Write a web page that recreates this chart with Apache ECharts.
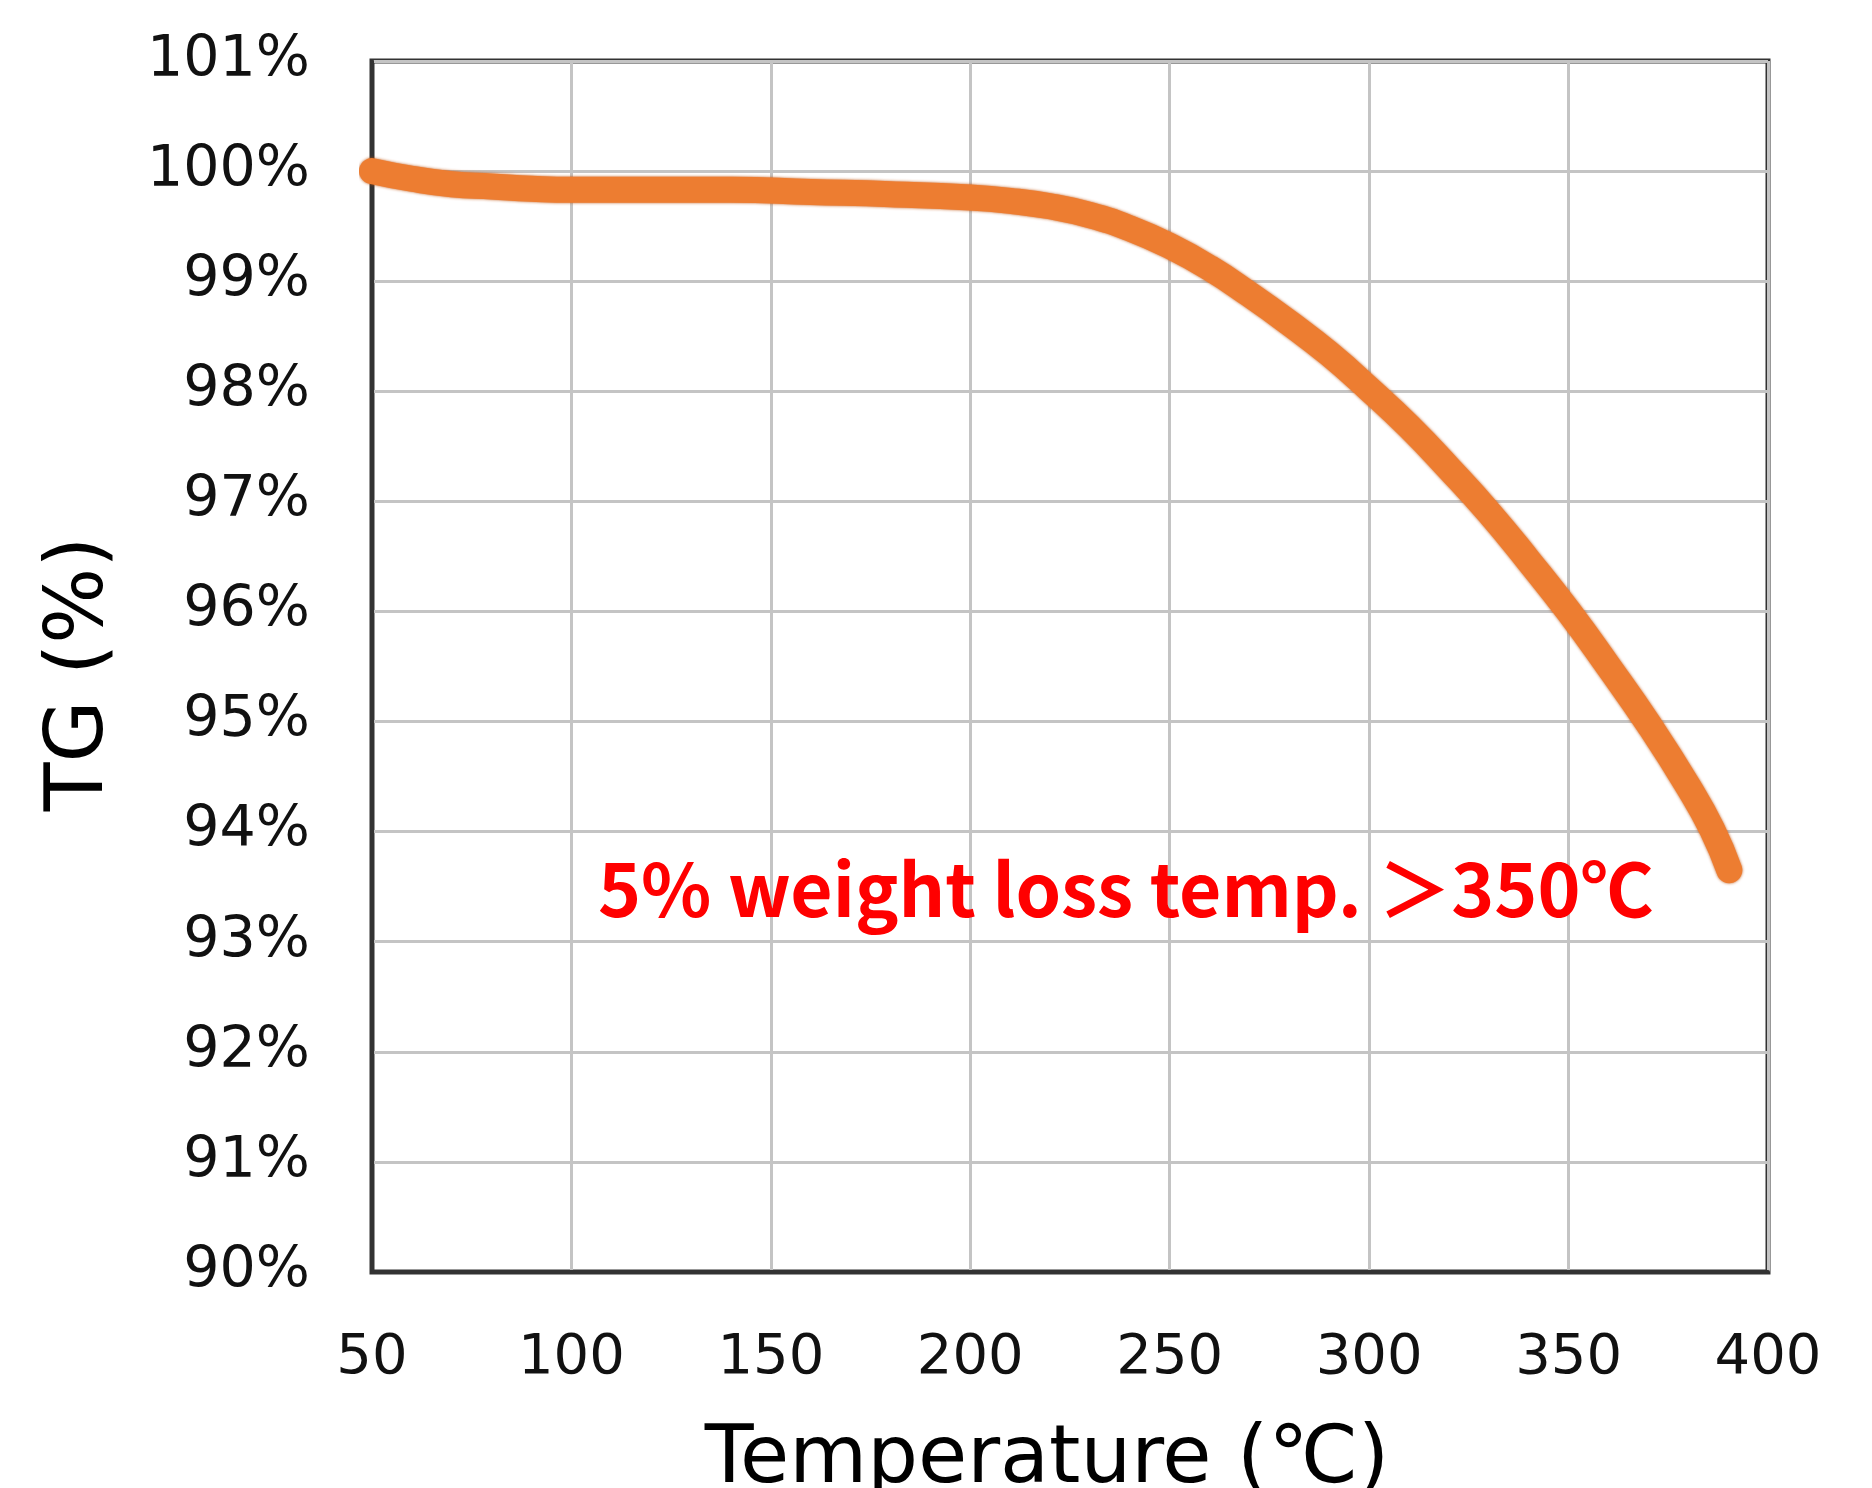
<!DOCTYPE html>
<html>
<head>
<meta charset="utf-8">
<title>TG curve</title>
<script src="https://cdn.jsdelivr.net/npm/echarts@6/dist/echarts.min.js"></script>
<style>
  html, body { margin: 0; padding: 0; background: #ffffff; }
  #chart { width: 1872px; height: 1488px; }
</style>
</head>
<body>
<div id="chart"></div>
<script>
// Thermogravimetric curve: temperature (°C) vs remaining weight (%)
const temperature = [50, 60, 70, 80, 90, 100, 120, 140, 160, 180, 200, 210, 220, 230, 240, 250, 260, 270, 280, 290, 300, 310, 320, 330, 340, 350, 360, 370, 380, 386, 390.3];
const weightPct  = [100.00, 99.93, 99.88, 99.86, 99.84, 99.83, 99.83, 99.83, 99.81, 99.79, 99.76, 99.73, 99.68, 99.60, 99.48, 99.32, 99.12, 98.88, 98.62, 98.34, 98.02, 97.68, 97.30, 96.90, 96.46, 96.00, 95.50, 94.98, 94.41, 94.02, 93.65];

const xTicks = { min: 50, max: 400, step: 50 };
const yTicks = { min: 90, max: 101, step: 1 };

const xTitle = 'Temperature (℃)';
const yTitle = 'TG (%)';
const note = '5% weight loss temp. ＞350℃';

const tickFont = '"DejaVu Sans", Verdana, sans-serif';

const chart = echarts.init(document.getElementById('chart'), null, { renderer: 'canvas' });

chart.setOption({
  backgroundColor: '#ffffff',
  animation: false,
  grid: {
    left: 372, top: 61, width: 1396, height: 1211,
    show: true,
    borderColor: '#333333',
    borderWidth: 5,
    outerBoundsMode: 'none'
  },
  xAxis: {
    type: 'value',
    min: xTicks.min, max: xTicks.max, interval: xTicks.step,
    axisLine: { show: true, lineStyle: { color: '#333333', width: 4 } },
    axisTick: { show: false },
    axisLabel: { fontFamily: tickFont, fontSize: 56, color: '#111111', margin: 58 },
    splitLine: { show: true, lineStyle: { color: '#c4c4c4', width: 3 } }
  },
  yAxis: {
    type: 'value',
    min: yTicks.min, max: yTicks.max, interval: yTicks.step,
    axisLine: { show: true, lineStyle: { color: '#333333', width: 4 } },
    axisTick: { show: false },
    axisLabel: { fontFamily: tickFont, fontSize: 57, color: '#111111', margin: 62, formatter: '{value}%' },
    splitLine: { show: true, lineStyle: { color: '#c4c4c4', width: 3 } }
  },
  graphic: [
    {
      type: 'text', x: 1047, y: 1421,
      style: { text: xTitle, font: '80px "DejaVu Sans", sans-serif', fill: '#000000', textAlign: 'center', textVerticalAlign: 'top' }
    },
    {
      type: 'text', x: 81, y: 674, rotation: Math.PI / 2,
      style: { text: yTitle, font: '80px "DejaVu Sans", sans-serif', fill: '#000000', textAlign: 'center', textVerticalAlign: 'middle' }
    },
    {
      type: 'text', x: 598, y: 889, z: 10,
      style: { text: note, font: 'bold 73px "Noto Sans CJK JP", sans-serif', fill: '#ff0000', textAlign: 'left', textVerticalAlign: 'middle' }
    }
  ],
  series: [{
    type: 'line',
    data: temperature.map((t, i) => [t, weightPct[i]]),
    smooth: true,
    showSymbol: false,
    lineStyle: {
      color: '#ED7D31', width: 26, cap: 'round', join: 'round',
      shadowColor: 'rgba(190, 80, 10, 0.9)', shadowBlur: 3
    }
  }]
});
</script>
</body>
</html>
